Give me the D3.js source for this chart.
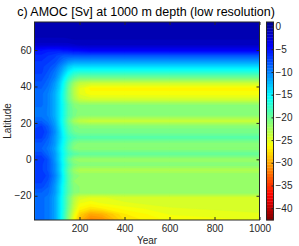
<!DOCTYPE html>
<html>
<head>
<meta charset="utf-8">
<script src="https://cdn.jsdelivr.net/npm/d3@7"></script>
<style>
  body { margin: 0; background: #fff; }
  svg { display: block; font-family: "Liberation Sans", Arial, sans-serif; }
</style>
</head>
<body>
<div id="chart"></div>
<script>
// model years of the stored snapshots (columns) and latitudes (rows)
var yearCols = [0, 5, 30, 60, 90, 110, 130, 150, 175, 200, 250, 300, 400, 600, 1000];
var latRows = [75, 72, 69, 66, 63, 60, 57, 54, 51, 48, 45, 42, 39, 36, 33, 30, 27, 24, 21, 18,
               15, 12, 9, 6, 3, 0, -3, -6, -9, -12, -15, -18, -21, -24, -27, -30, -33];

// AMOC [Sv] at 1000 m, one row per latitude, one value per year column
var amoc = [
  [-0.5,-0.5,-0.5,-0.5,-0.5,-0.5,-0.5,-0.5,-0.5,-0.5,-0.5,-0.5,-0.5,-0.5,-0.5],
  [-0.5,-0.5,-0.5,-0.5,-0.5,-0.5,-0.5,-0.5,-0.5,-0.5,-0.5,-0.5,-0.5,-0.5,-0.5],
  [-0.7,-0.7,-0.7,-0.7,-0.7,-0.7,-0.7,-0.7,-0.7,-0.7,-0.7,-0.7,-0.7,-0.7,-0.7],
  [-1.2,-1.2,-1.2,-1.2,-1.2,-1.2,-1.2,-1.1,-1,-1,-1,-1,-1,-1,-1],
  [-2,-2,-2,-2,-2,-2,-2,-2,-1.8,-1.6,-1.5,-1.5,-1.5,-1.5,-1.5],
  [-5,-5,-5,-5.5,-5.5,-5.5,-5,-5,-4.5,-4.5,-4,-4,-4,-4,-4],
  [-6,-6,-6,-6.5,-7,-7.5,-8,-8,-8,-8,-8,-8,-8,-8,-8],
  [-6.5,-6.5,-6.5,-7,-7.5,-8.5,-9.5,-10.5,-11,-11,-11,-11,-11,-11,-11],
  [-7,-7,-7,-7.5,-8.5,-10,-11.5,-13,-14,-14,-14,-14,-14,-14,-14],
  [-7,-7,-7,-8,-9.5,-11,-13,-15,-16.5,-17,-17,-17,-17,-17,-17],
  [-7.5,-7.5,-7.5,-8.5,-10,-12,-14.5,-17,-19,-20,-20,-20,-20,-20,-20],
  [-8,-8,-8,-9,-11,-13,-16,-19,-22,-23.5,-24,-24,-24,-24,-24],
  [-15,-8.5,-8.5,-9.5,-11.5,-13.5,-16.5,-20,-23,-25,-26.5,-26.5,-26.5,-26.5,-26.5],
  [-15,-9,-9,-10,-12,-14,-17,-20,-23,-25,-26,-26,-26,-26,-26],
  [-15,-9,-9,-10,-12,-14,-17,-20,-22.5,-24,-24.5,-24.5,-24.5,-24.5,-24.5],
  [-15,-9,-9,-10,-12,-14,-16.5,-19,-21,-21.5,-21.5,-21.5,-21.5,-21.5,-21.5],
  [-20,-9.5,-9.5,-10,-12,-14,-16.5,-19,-20.5,-21,-21,-21,-21,-21,-21],
  [-22,-9.5,-9.5,-10,-12,-14,-16.5,-19,-20.5,-21.5,-21.5,-21.5,-21.5,-21.5,-21.5],
  [-22,-8.5,-8.5,-9.5,-11.5,-14,-17,-20,-22.5,-23.5,-24,-24,-24,-24,-24],
  [-22,-7.5,-7,-8.5,-11,-13.5,-16.5,-19,-20.5,-21,-21,-21,-21,-21,-21],
  [-22,-6.5,-6.5,-8,-10.5,-13,-16,-18.5,-20,-20.5,-20.5,-20.5,-20.5,-20.5,-20.5],
  [-22,-7,-7,-8.5,-11,-13,-15.5,-17.5,-18.5,-19,-19,-19,-19,-19,-19],
  [-22,-8,-8,-9,-11,-13.5,-16,-18.5,-20.5,-21,-21,-21,-21,-21,-21],
  [-22,-8.5,-8.5,-9.5,-11.5,-14,-16.5,-19,-21,-21.5,-21.5,-21.5,-21.5,-21.5,-21.5],
  [-22,-7.5,-7.5,-9,-11,-13.5,-16,-18,-19,-19.5,-19.5,-19.5,-19.5,-19.5,-19.5],
  [-22,-6.5,-6.5,-8,-11,-13.5,-16.5,-19.5,-21.5,-22,-22,-22,-22,-22,-22],
  [-22,-7,-7,-8,-10.5,-13,-16,-18.5,-20.5,-21,-21,-21,-21,-21,-21],
  [-22,-7,-7,-8,-10.5,-13,-16.5,-19.5,-22,-23,-23,-23,-23,-23,-23],
  [-22,-6.5,-6.5,-7.5,-10,-12.5,-16,-19,-21,-21.5,-21.5,-21.5,-21.5,-21.5,-21.5],
  [-22,-7,-7,-8,-10.5,-13,-16,-19,-21.5,-22,-22,-22,-22,-22,-22],
  [-22,-7.5,-7.5,-8.5,-11,-13.5,-16.5,-19,-21,-21.5,-21.5,-21.5,-21.5,-21.5,-21.5],
  [-23,-8.5,-8.5,-9,-11,-13.5,-16.5,-19,-21,-21.5,-21.5,-21.5,-21.5,-21.5,-21.5],
  [-24,-9,-9,-9.5,-11.5,-14,-17,-20,-23,-24.5,-25,-25,-24.5,-24.5,-24.5],
  [-25,-9,-9,-9.5,-11.5,-14,-17,-20,-23.5,-25.5,-26,-25.5,-25,-24.5,-24.5],
  [-27,-9,-9,-9.5,-11.5,-14,-17,-20.5,-24,-26.5,-27.5,-27,-26,-25,-24.5],
  [-29,-9,-9,-9.5,-11.5,-14,-17.5,-21,-25,-28,-30,-29.5,-27,-25.5,-25],
  [-31,-9,-9,-9.5,-11.5,-14,-17.5,-21.5,-26,-29,-31.5,-31,-27.5,-26,-25.5]
];

var yearTicks = [200, 400, 600, 800, 1000];
var latTicks = [-20, 0, 20, 40, 60];
var cbarTicks = [0, -5, -10, -15, -20, -25, -30, -35, -40];
var colorRange = [-42.6, 1];

var width = 299, height = 246;
var pLeft = 34.5, pRight = 259.5, pTop = 22, pBottom = 220;

var svg = d3.select("#chart").append("svg")
    .attr("width", width)
    .attr("height", height);

var x = d3.scaleLinear().domain([0, 1000]).range([pLeft, pRight]);
var y = d3.scaleLinear().domain([-33.3, 75.4]).range([pBottom, pTop]);

// jet colormap, high values blue, low values red
var jet = d3.scaleLinear()
    .domain([0, 0.125, 0.375, 0.625, 0.875, 1])
    .range(["#00008f", "#0000ff", "#00ffff", "#ffff00", "#ff0000", "#800000"]);
var nColors = 64;
var step = (colorRange[1] - colorRange[0]) / nColors;
var levels = d3.range(nColors).map(function(i) { return colorRange[0] + i * step; });
function bandColor(i) { return jet(1 - (i + 0.5) / nColors); }

// grid position -> year / latitude
var n = yearCols.length, m = latRows.length;
var gx = d3.scaleLinear()
    .domain([0].concat(d3.range(n).map(function(i) { return i + 0.5; }), [n]))
    .range([0].concat(yearCols, [1000]));
var gy = d3.scaleLinear()
    .domain([0].concat(d3.range(m).map(function(i) { return i + 0.5; }), [m]))
    .range([75.4].concat(latRows, [-33.3]));

var values = [];
amoc.forEach(function(row) { values = values.concat(row); });

var contours = d3.contours().size([n, m]).thresholds(levels)(values);

var path = d3.geoPath(d3.geoTransform({
  point: function(px, py) { this.stream.point(x(gx(px)), y(gy(py))); }
}));

svg.append("clipPath").attr("id", "plot-clip")
  .append("rect")
    .attr("x", pLeft).attr("y", pTop)
    .attr("width", pRight - pLeft).attr("height", pBottom - pTop);

svg.append("g")
    .attr("clip-path", "url(#plot-clip)")
  .selectAll("path")
  .data(contours)
  .enter().append("path")
    .attr("d", path)
    .attr("fill", function(d, i) { return bandColor(i); })
    .attr("stroke", function(d, i) { return bandColor(i); })
    .attr("stroke-width", 0.3);

// axes, ticks inside the box
function styleAxis(g) {
  g.select(".domain").remove();
  g.selectAll(".tick line").attr("stroke", "#262626");
  g.selectAll(".tick text").attr("fill", "#262626").style("font-size", "10px")
    .style("font-family", "'Liberation Sans', Arial, sans-serif");
}

svg.append("g")
    .attr("transform", "translate(0," + pBottom + ")")
    .call(d3.axisBottom(x).tickValues(yearTicks).tickFormat(d3.format("d"))
      .tickSizeInner(-3).tickSizeOuter(0).tickPadding(5))
    .call(styleAxis);
svg.append("g")
    .attr("transform", "translate(0," + pTop + ")")
    .call(d3.axisTop(x).tickValues(yearTicks).tickSizeInner(-3).tickSizeOuter(0).tickFormat(""))
    .call(styleAxis);
svg.append("g")
    .attr("transform", "translate(" + pLeft + ",0)")
    .call(d3.axisLeft(y).tickValues(latTicks).tickSizeInner(-3).tickSizeOuter(0).tickPadding(3))
    .call(styleAxis);
svg.append("g")
    .attr("transform", "translate(" + pRight + ",0)")
    .call(d3.axisRight(y).tickValues(latTicks).tickSizeInner(-3).tickSizeOuter(0).tickFormat(""))
    .call(styleAxis);

svg.append("rect")
    .attr("x", pLeft).attr("y", pTop)
    .attr("width", pRight - pLeft).attr("height", pBottom - pTop)
    .attr("fill", "none").attr("stroke", "#262626").attr("stroke-width", 1);

// colorbar
var cbLeft = 266.5, cbRight = 273.5;
var c = d3.scaleLinear().domain(colorRange).range([pBottom, pTop]);

svg.append("g").selectAll("rect")
  .data(levels)
  .enter().append("rect")
    .attr("x", cbLeft)
    .attr("width", cbRight - cbLeft)
    .attr("y", function(d) { return c(d + step); })
    .attr("height", function(d) { return c(d) - c(d + step) + 0.3; })
    .attr("fill", function(d, i) { return bandColor(i); });

svg.append("g")
    .attr("transform", "translate(" + cbRight + ",0)")
    .call(d3.axisRight(c).tickValues(cbarTicks).tickSizeInner(-2).tickSizeOuter(0).tickPadding(2))
    .call(styleAxis);

svg.append("rect")
    .attr("x", cbLeft).attr("y", pTop)
    .attr("width", cbRight - cbLeft).attr("height", pBottom - pTop)
    .attr("fill", "none").attr("stroke", "#262626").attr("stroke-width", 1);

// labels
svg.append("text")
    .attr("x", (pLeft + pRight) / 2).attr("y", 243.5)
    .attr("text-anchor", "middle")
    .style("font-size", "10px").attr("fill", "#262626")
    .text("Year");

svg.append("text")
    .attr("transform", "translate(11," + ((pTop + pBottom) / 2) + ") rotate(-90)")
    .attr("text-anchor", "middle")
    .style("font-size", "10px").attr("fill", "#262626")
    .text("Latitude");

svg.append("text")
    .attr("x", 146).attr("y", 15.5)
    .attr("text-anchor", "middle")
    .style("font-size", "12.5px").attr("fill", "#000")
    .text("c) AMOC [Sv] at 1000 m depth (low resolution)");
</script>
</body>
</html>
